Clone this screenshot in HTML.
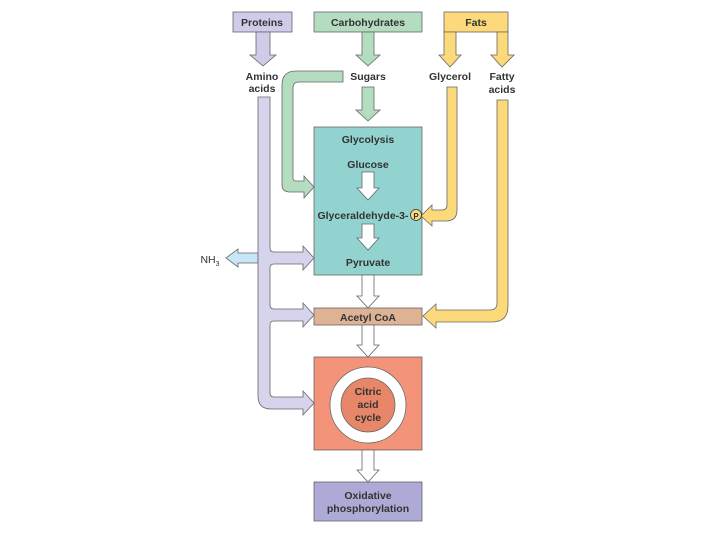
<!DOCTYPE html>
<html><head><style>body{margin:0;background:#fff}svg{display:block}</style></head><body>
<svg width="720" height="540" xmlns="http://www.w3.org/2000/svg" font-family="Liberation Sans, sans-serif" font-size="10.5" font-weight="bold" fill="#333">
<g stroke="#666" stroke-width="0.8">
<!-- boxes -->
<rect x="233" y="12" width="59" height="20" fill="#cfcbe8"/>
<rect x="314" y="12" width="108" height="20" fill="#b3dcc0"/>
<rect x="444" y="12" width="64" height="20" fill="#fcd97a"/>
<rect x="314" y="127" width="108" height="148" fill="#92d3cf"/>
<rect x="314" y="308" width="108" height="17" fill="#ddb295"/>
<rect x="314" y="357" width="108" height="93" fill="#f2937a"/>
<rect x="314" y="482" width="108" height="39" fill="#aeaad6"/>
<!-- top arrows -->
<path d="M256 32 V55 H250 L263 66 L276 55 H270 V32Z" fill="#cfcbe8"/>
<path d="M362 32 V55 H356 L368 66 L380 55 H374 V32Z" fill="#b3dcc0"/>
<path d="M362 87 V110 H356 L368 121 L380 110 H374 V87Z" fill="#b3dcc0"/>
<path d="M444 32 V55 H439 L450 67 L461 55 H456 V32Z" fill="#fcd97a"/>
<path d="M497 32 V55 H491 L502 67 L514 55 H508 V32Z" fill="#fcd97a"/>
<!-- green curve -->
<path d="M343 71 H296 Q282 71 282 85 V185 Q282 192 290 192 H304 V198 L314 187 L304 176 V181 H296 Q293 181 293 178 V88 Q293 82 299 82 H343Z" fill="#b3dcc0"/>
<!-- glycerol -->
<path d="M447 87 V205 Q447 210 442 210 H432 V205 L421 216 L432 226 V221 H446 Q457 221 457 210 V87Z" fill="#fcd97a"/>
<!-- fatty -->
<path d="M497 100 V303 Q497 310 490 310 H436 V304 L423 316 L436 328 V322 H492 Q508 322 508 306 V100Z" fill="#fcd97a"/>
<!-- NH3 -->
<path d="M258 253 H238 V249 L226 258 L238 267 V263 H258Z" fill="#c8e7f6"/>
<!-- purple -->
<path d="M258 97 V396 Q258 409 271 409 H303 V415 L314 403 L303 391 V397 H274 Q270 397 270 393 V325 Q270 321 274 321 H303 V327 L314 315 L303 303 V309 H274 Q270 309 270 305 V268 Q270 264 274 264 H303 V270 L314 258 L303 246 V252 H274 Q270 252 270 248 V97Z" fill="#d6d3ec"/>
<!-- white arrows -->
<g fill="#fff">
<path d="M362 172 V188 H357 L368 200 L379 188 H374 V172Z"/>
<path d="M362 224 V238 H357 L368 250 L379 238 H374 V224Z"/>
<path d="M362 275 V296 H357 L368 308 L379 296 H374 V275Z"/>
<path d="M362 325 V345 H357 L368 357 L379 345 H374 V325Z"/>
<path d="M362 450 V470 H357 L368 482 L379 470 H374 V450Z"/>
</g>
<circle cx="368" cy="405" r="38" fill="#fff"/>
<circle cx="368" cy="405" r="27" fill="#e8866a"/>
<circle cx="416" cy="215" r="5.5" fill="#fcd97a" stroke="#333"/>
</g>
<g text-anchor="middle">
<text x="262" y="26">Proteins</text>
<text x="368" y="26">Carbohydrates</text>
<text x="476" y="26">Fats</text>
<text x="262" y="80">Amino</text><text x="262" y="92">acids</text>
<text x="368" y="80">Sugars</text>
<text x="450" y="80">Glycerol</text>
<text x="502" y="80">Fatty</text><text x="502" y="93">acids</text>
<text x="368" y="143">Glycolysis</text>
<text x="368" y="168">Glucose</text>
<text x="363" y="219">Glyceraldehyde-3-</text>
<text x="416" y="219" font-size="8">P</text>
<text x="368" y="266">Pyruvate</text>
<text x="368" y="321">Acetyl CoA</text>
<text x="368" y="395">Citric</text><text x="368" y="408">acid</text><text x="368" y="421">cycle</text>
<text x="368" y="499">Oxidative</text><text x="368" y="512">phosphorylation</text>
<text x="210" y="263" font-weight="normal">NH<tspan font-size="7" dy="3">3</tspan></text>
</g>
</svg>
</body></html>
